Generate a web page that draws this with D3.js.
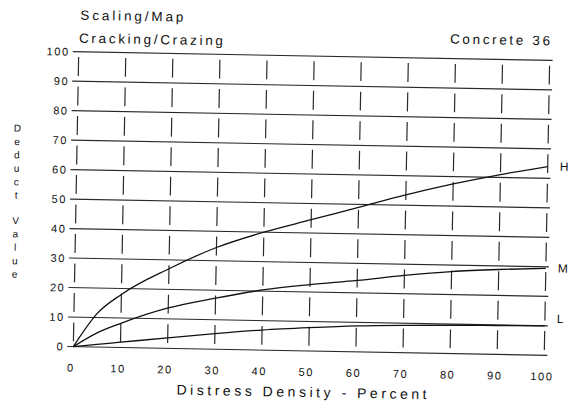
<!DOCTYPE html>
<html>
<head>
<meta charset="utf-8">
<script src="https://cdn.jsdelivr.net/npm/d3@7"></script>
<style>
  html, body { margin: 0; padding: 0; background: #fff; }
  svg { display: block; }
  text { font-family: "Liberation Sans", Arial, sans-serif; fill: #111; }
</style>
</head>
<body>
<svg id="chart" width="572" height="410"></svg>
<script>
// ---- data ----
const density = [0, 5, 10, 20, 30, 40, 50, 60, 70, 80, 90, 100];
const highValues   = [0, 11.5, 18, 27, 34.5, 40, 44.5, 49, 53.5, 57.5, 61, 64];
const mediumValues = [0, 4.8, 8.2, 13.7, 17.3, 20.4, 22.5, 24.2, 26.2, 27.8, 28.8, 29.5];
const lowValues    = [0, 0.9, 1.8, 3.6, 5.3, 6.8, 7.9, 8.8, 9.3, 9.6, 9.8, 10];
const seriesNames  = ["H", "M", "L"];
const xTickValues  = [0, 10, 20, 30, 40, 50, 60, 70, 80, 90, 100];
const yTickValues  = [0, 10, 20, 30, 40, 50, 60, 70, 80, 90, 100];
const titleLine1 = "Scaling/Map";
const titleLine2 = "Cracking/Crazing";
const titleRight = "Concrete 36";
const xTitle = "Distress Density - Percent";
const yTitleWords = ["Deduct", "Value"];

// ---- layout ----
const svg = d3.select("#chart");
const plotLeft = 76, plotRight = 547, plotTop = 56, plotBottom = 351;
const x = d3.scaleLinear().domain([0, 100]).range([plotLeft, plotRight]);
const y = d3.scaleLinear().domain([0, 100]).range([plotBottom, plotTop]);

const g = svg.append("g").attr("transform", "rotate(1.05, 311, 203)");

// horizontal grid lines
g.append("g").selectAll("line").data(yTickValues).join("line")
  .attr("x1", x(0) - 6).attr("x2", x(100) + 3)
  .attr("y1", d => y(d)).attr("y2", d => y(d))
  .attr("stroke", "#2a2a2a").attr("stroke-width", 1.1);

// vertical dashed grid lines, gaps centred on the horizontal lines
const cell = y(0) - y(10);
const dash = cell * 0.64, gap = cell - dash;
g.append("g").selectAll("line").data(xTickValues).join("line")
  .attr("x1", d => x(d)).attr("x2", d => x(d))
  .attr("y1", y(100)).attr("y2", y(0))
  .attr("stroke", "#2a2a2a").attr("stroke-width", 1.2)
  .attr("stroke-dasharray", `${dash},${gap}`)
  .attr("stroke-dashoffset", -gap / 2);

// y tick labels
g.append("g").selectAll("text").data(yTickValues).join("text")
  .attr("x", x(0) - 9).attr("y", d => y(d) + 4)
  .attr("text-anchor", "end").attr("font-size", 11)
  .attr("letter-spacing", 1.6)
  .text(d => d);

// x tick labels
g.append("g").selectAll("text").data(xTickValues).join("text")
  .attr("x", d => x(d) - 2).attr("y", plotBottom + 25)
  .attr("text-anchor", "middle").attr("font-size", 11)
  .attr("letter-spacing", 1.6)
  .text(d => d);

// curves
const line = d3.line().x(d => x(d[0])).y(d => y(d[1])).curve(d3.curveMonotoneX);
const seriesValues = [highValues, mediumValues, lowValues];
const labelOffsets = [0, 0, -7];
seriesValues.forEach((vals, i) => {
  const pts = density.map((d, j) => [d, vals[j]]);
  g.append("path").attr("d", line(pts))
    .attr("fill", "none").attr("stroke", "#111").attr("stroke-width", 1.3);
  g.append("text")
    .attr("x", x(100) + 12).attr("y", y(vals[vals.length - 1]) + 4 + labelOffsets[i])
    .attr("font-size", 12).text(seriesNames[i]);
});

// titles
g.append("text").attr("x", 77).attr("y", 24).attr("font-size", 13.5)
  .attr("textLength", 103).attr("lengthAdjust", "spacing").text(titleLine1);
g.append("text").attr("x", 76).attr("y", 47).attr("font-size", 13.5)
  .attr("textLength", 144).attr("lengthAdjust", "spacing").text(titleLine2);
g.append("text").attr("x", 447).attr("y", 41).attr("font-size", 13.5)
  .attr("textLength", 100).attr("lengthAdjust", "spacing").text(titleRight);

// x axis title
g.append("text").attr("x", 180).attr("y", plotBottom + 46).attr("font-size", 14)
  .attr("textLength", 250).attr("lengthAdjust", "spacing").text(xTitle);

// y axis title: stacked letters
const yt = g.append("text").attr("font-size", 10).attr("text-anchor", "middle");
let ly = 137;
yTitleWords.forEach((w, wi) => {
  if (wi > 0) ly += 12;
  w.split("").forEach(ch => {
    yt.append("tspan").attr("x", 16).attr("y", ly).text(ch);
    ly += 13.4;
  });
});
</script>
</body>
</html>
